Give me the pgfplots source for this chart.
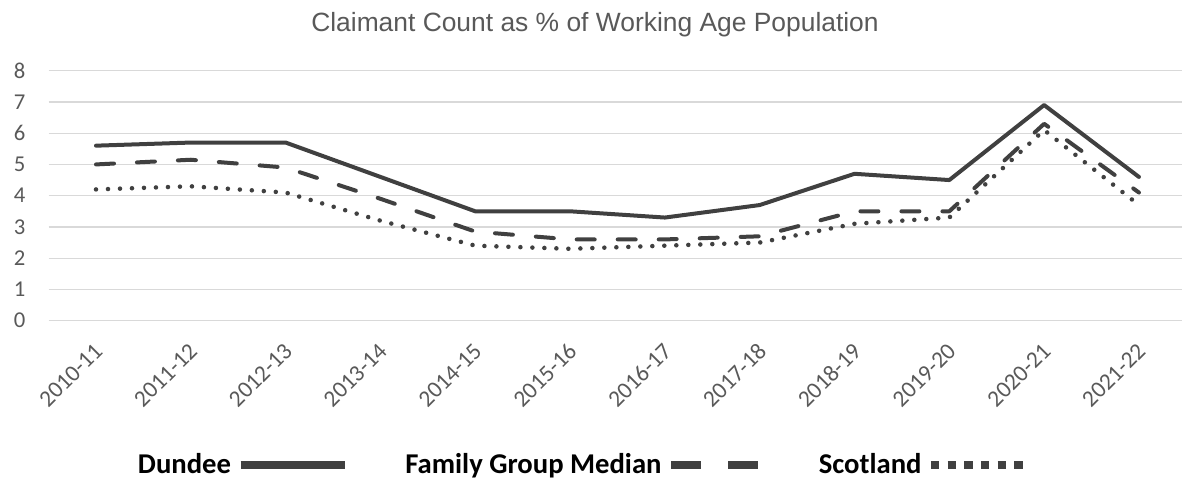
\documentclass[border=0pt]{standalone}
\usepackage{pgfplots}
\pgfplotsset{compat=1.18}
\usepackage{fontspec}
\setmainfont{Carlito}
\newfontfamily\titlefont{Liberation Sans}
\definecolor{lgray}{HTML}{404040}
\definecolor{tgray}{HTML}{595959}
\definecolor{ggray}{HTML}{D9D9D9}

\begin{document}
\begin{tikzpicture}
\path[use as bounding box] (0pt,0pt) rectangle (886.5pt,-360pt);
\begin{axis}[
  at={(36.45pt,-240.5pt)}, anchor=south west,
  scale only axis, width=849.75pt, height=187.5pt,
  xmin=-0.5, xmax=11.45, ymin=0, ymax=8,
  xtick={0,...,11},
  xticklabels={2010-11,2011-12,2012-13,2013-14,2014-15,2015-16,2016-17,2017-18,2018-19,2019-20,2020-21,2021-22},
  ytick={0,...,8},
  ymajorgrids, grid style={draw=ggray, line width=1pt},
  axis line style={draw=none},
  major tick length=0pt,
  tick label style={text=tgray},
  /pgf/number format/assume math mode=true,
  yticklabel style={font=\fontsize{17}{20}\selectfont, anchor=east, inner sep=0pt, xshift=-17.25pt},
  xticklabel style={font=\fontsize{17.6}{21}\selectfont, xshift=2pt, yshift=-20pt, rotate=45, anchor=east, inner sep=0pt},
  legend columns=3,
  legend plot pos=right,
  legend style={at={(axis description cs:0.0789,-0.577)}, anchor=west, draw=none, fill=none,
    inner sep=0pt, outer sep=0pt, font=\bfseries\fontsize{21.5}{25}\selectfont,
    nodes={inner sep=0pt},
    /tikz/every odd column/.append style={column sep=4pt},
    /tikz/every even column/.append style={column sep=42.5pt}},
]
\addplot[draw=lgray, line width=3pt, solid, line join=round, line cap=round,
  legend image code/.code={\draw[draw=lgray, line width=6.2pt, line cap=butt, solid] (0pt,0pt) -- (78pt,0pt);}]
  table[x=x,y=y] {
x y
0 5.6
1 5.7
2 5.7
3 4.6
4 3.5
5 3.5
6 3.3
7 3.7
8 4.7
9 4.5
10 6.9
11 4.6
};
\addlegendentry{Dundee}
\addplot[draw=lgray, line width=3pt, line join=round, line cap=round, dash pattern=on 13.5pt off 17.25pt,
  legend image code/.code={\draw[draw=lgray, line width=6.2pt, line cap=butt, dash pattern=on 22.5pt off 20.25pt] (0pt,0pt) -- (65.25pt,0pt);}]
  table[x=x,y=y] {
x y
0 5.0
1 5.15
2 4.9
3 3.9
4 2.85
5 2.6
6 2.6
7 2.7
8 3.5
9 3.5
10 6.3
11 4.1
};
\addlegendentry{Family Group Median}
\addplot[draw=lgray, line width=3.4pt, line join=round, line cap=round, dash pattern=on 0pt off 9pt,
  legend image code/.code={\draw[draw=lgray, line width=6.2pt, line cap=butt, dash pattern=on 6.2pt off 6.3pt] (0pt,0pt) -- (68.7pt,0pt);}]
  table[x=x,y=y] {
x y
0 4.2
1 4.3
2 4.1
3 3.2
4 2.4
5 2.3
6 2.4
7 2.5
8 3.1
9 3.3
10 6.1
11 3.7
};
\addlegendentry{Scotland}
\end{axis}
\node[anchor=base, font=\titlefont\fontsize{19.8}{23}\selectfont, text=tgray] at (446.25pt,-23.8pt) {Claimant Count as \% of Working Age Population};
\end{tikzpicture}
\end{document}
